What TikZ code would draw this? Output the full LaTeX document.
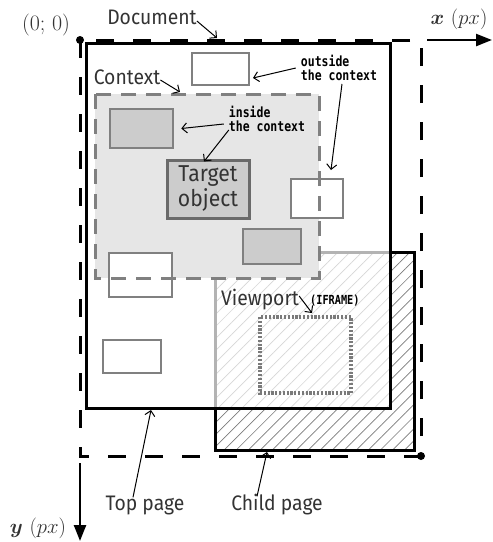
\documentclass[tikz,border=0pt]{standalone}
\usepackage{amsmath, amssymb, bm}
\usepackage{fontspec}
\usepackage{tikz}
\usetikzlibrary{arrows.meta, calc, positioning, patterns.meta}
\newfontfamily\lblfont{Fira Sans}[FakeStretch=0.92]
\newfontfamily\notefont{DejaVu Sans Mono}[FakeStretch=0.82]
\definecolor{vp-ink}{HTML}{333333}
\definecolor{vp-edge}{HTML}{808080}
\definecolor{vp-ctx}{HTML}{E6E6E6}
\definecolor{vp-obj}{HTML}{CCCCCC}
\definecolor{vp-dark}{HTML}{6A6A6A}
\definecolor{vp-hatch}{HTML}{7A7A7A}

\begin{document}
\begin{tikzpicture}[x=1pt, y=-1pt, line cap=butt, line join=miter,
  lbl/.style={inner sep=0pt, text=vp-ink, font=\lblfont\fontsize{21}{23}\selectfont},
  note/.style={inner sep=0pt, align=left, text=black,
    font=\notefont\bfseries\fontsize{14}{14}\selectfont},
  callout/.style={line width=1pt, -{Straight Barb[length=5pt, width=10pt]}},
  axis/.style={line width=2.4pt, -{Triangle[length=16pt, width=12pt]}},
  pagebox/.style={line width=3pt, draw=black},
  docline/.style={line width=3pt, dash pattern=on 18pt off 19pt},
  outbox/.style={draw=vp-edge, fill=white, line width=2pt, inner sep=0pt},
  inbox/.style={draw=vp-edge, fill=vp-obj, line width=2.5pt, inner sep=0pt}]
  \useasboundingbox (0,0) rectangle (493,542);
  % kanten
  \coordinate (o) at (80,40);
  \coordinate (docend) at (421,456);
  \coordinate (topnw) at (86,43);
  \coordinate (topse) at (390,408);
  \coordinate (childnw) at (215,252);
  \coordinate (childse) at (414,450);
  % child page under top page
  \fill[pattern={Lines[angle=45, distance=8.5pt, line width=0.7pt]},
    pattern color=vp-hatch] (childnw) rectangle (childse);
  \draw[pagebox] (childnw) rectangle (childse);
  \fill[white, opacity=0.7] (topnw) rectangle (topse);
  \draw[pagebox] (topnw) rectangle (topse);
  % document and axes
  \draw[docline] (o) rectangle (docend);
  \fill (o) circle (4pt);
  \fill (docend) circle (4pt);
  \coordinate (xs) at (427,40);
  \coordinate (xe) at (492,40);
  \coordinate (ys) at (80,463);
  \coordinate (ye) at (80,541);
  \draw[axis] (xs) -- (xe);
  \draw[axis] (ys) -- (ye);
  \node[inner sep=0pt, font=\fontsize{22}{24}\selectfont, text=vp-ink] (xlbl) at (459,19) {$\bm{x}\ (px)$};
  \node[inner sep=0pt, font=\fontsize{22}{24}\selectfont, text=vp-ink] (ylbl) at (38,528) {$\bm{y}\ (px)$};
  \node[inner sep=0pt, font=\fontsize{22}{24}\selectfont, text=vp-ink] (olbl) at (46,25) {(0; 0)};
  % context
  \coordinate (ctxnw) at (95,94);
  \coordinate (ctxse) at (319,278);
  \fill[vp-ctx] (ctxnw) rectangle (ctxse);
  \node[outbox, minimum width=57pt, minimum height=32pt] (b1) at (220.5,69) {};
  \node[outbox, minimum width=52pt, minimum height=39pt] (b2) at (317,198.5) {};
  \node[inbox, minimum width=63pt, minimum height=39pt] (b3) at (141.5,128.5) {};
  \node[inbox, draw=vp-dark, line width=3pt, minimum width=82pt, minimum height=58pt,
    align=center, text=vp-ink, font=\lblfont\fontsize{23}{25}\selectfont] (target) at (208,189) {Target\\object};
  \node[inbox, minimum width=58pt, minimum height=35pt] (b5) at (272,246.5) {};
  \node[outbox, minimum width=63pt, minimum height=44pt] (b6) at (140.5,275) {};
  \node[outbox, minimum width=58pt, minimum height=33pt] (b7) at (132,356.5) {};
  \draw[vp-edge, line width=3pt, dash pattern=on 15pt off 10pt] (ctxnw) rectangle (ctxse);
  % viewport
  \draw[vp-hatch, line width=3.2pt, dash pattern=on 2.2pt off 1.6pt] (260,317) rectangle (351,393);
  % labels
  \node[lbl] (doclbl) at (152,17) {Document};
  \coordinate (docpt) at (217,38);
  \draw[callout] (doclbl.east) ++(0,4) -- (docpt);
  \node[lbl] (ctxlbl) at (127,77) {Context};
  \coordinate (ctxpt) at (180,92);
  \draw[callout] (ctxlbl.east) ++(0,3) -- (ctxpt);
  \node[note] (outlbl) at (339,68) {outside\\the context};
  \draw[callout] (outlbl.west) ++(-5,0) -- ([xshift=3pt, yshift=-9pt]b1.east);
  \coordinate (outpt) at (331,170);
  \draw[callout] ([xshift=3pt, yshift=-3pt]outlbl.south) -- (outpt);
  \node[note] (inlbl) at (267,119) {inside\\the context};
  \draw[callout] ([xshift=-5pt, yshift=-5pt]inlbl.west) -- ([xshift=7pt]b3.east);
  \draw[callout] ([yshift=2pt]inlbl.south west) -- ([xshift=-4pt, yshift=-3pt]target.north);
  \node[lbl, anchor=west] (vplbl) at (221,300) {Viewport};
  \node[note, anchor=west, font=\notefont\bfseries\fontsize{12.5}{13}\selectfont] (iflbl) at (310,301) {(IFRAME)};
  \coordinate (vppt) at (312,313);
  \draw[callout] ([yshift=4pt]vplbl.east) -- (vppt);
  \node[lbl] (toplbl) at (145,505) {Top page};
  \coordinate (toppt) at (151,410);
  \draw[callout] ([xshift=-12pt, yshift=-2pt]toplbl.north) -- (toppt);
  \node[lbl] (childlbl) at (277,505) {Child page};
  \coordinate (childpt) at (267,452);
  \draw[callout] ([xshift=-20pt, yshift=-2pt]childlbl.north) -- (childpt);
\end{tikzpicture}
\end{document}
